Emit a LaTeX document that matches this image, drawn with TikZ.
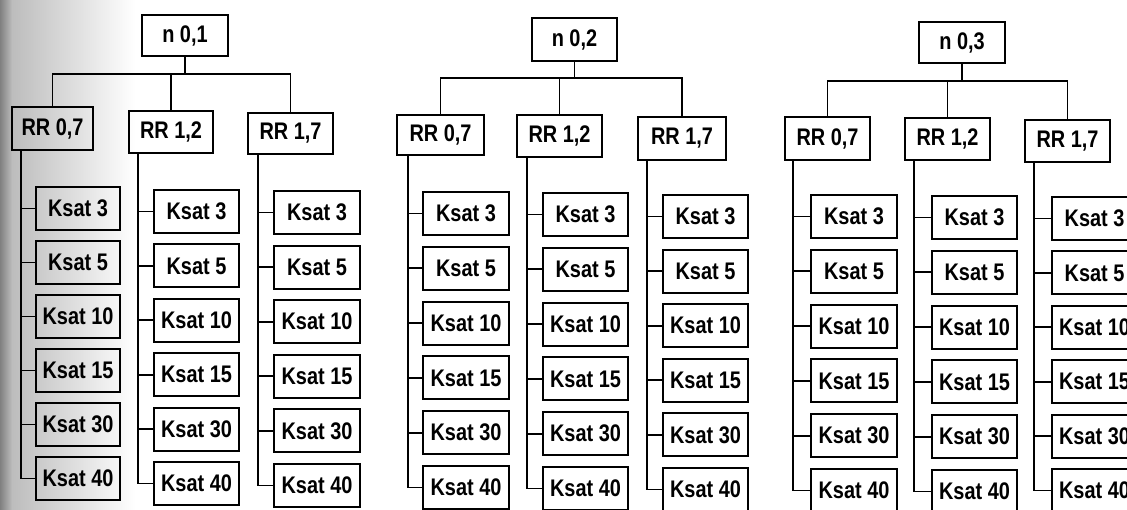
\documentclass[tikz,border=0pt]{standalone}
\usepackage{fontspec}
\setmainfont{Liberation Sans}[FakeStretch=0.83]
\begin{document}
\begin{tikzpicture}[x=1pt,y=-1pt,
  bx/.style={draw, line width=2pt, inner sep=0pt, font=\fontsize{24}{26}\selectfont\bfseries},
  ln/.style={line width=1.8pt}]
\useasboundingbox (0,0) rectangle (1127,509);
\clip (0,0) rectangle (1127,509);
% scanner shadow on the left
\shade[left color=black!50, right color=black!26] (0,0) rectangle (12,509);
\shade[left color=black!26, right color=white] (12,0) rectangle (135,509);
% top nodes
\node[bx, minimum width=86, minimum height=41] (n1) at (185,35.5) {n 0,1};
\node[bx, minimum width=85, minimum height=43] (n2) at (574.5,39.5) {n 0,2};
\node[bx, minimum width=86, minimum height=41] (n3) at (962,42.5) {n 0,3};
\coordinate (b1) at (185,74);
\coordinate (b2) at (574.5,78);
\coordinate (b3) at (962,81);
\foreach \t in {1,2,3}{\draw[ln] (n\t.south) -- (b\t);}
% RR nodes: tree/col/left/right/top/bottom/spine
\foreach \t/\c/\L/\R/\T/\B/\s in {
  1/1/12/93/107/150/21, 1/2/129/213/111/153/138, 1/3/248/333/113/154/258,
  2/1/397/484/115/155/408, 2/2/517/602/115/157/527, 2/3/638/726/117/160/647,
  3/1/785/870/117/160/793, 3/2/905/990/118/160/914, 3/3/1025/1110/120/162/1034}{
  \node[bx, minimum width={\R-\L}, minimum height={\B-\T}] (r\t\c) at ({(\L+\R)/2},{(\T+\B)/2})
    {RR \ifcase\c\or 0,7\or 1,2\or 1,7\fi};
  \draw[ln] (b\t) -| (r\t\c.north);
  \coordinate (s\t\c) at (\s,\B);
}
% Ksat nodes: tree/col/left/right/first top/pitch
\foreach \t/\c/\L/\R/\T/\p in {
  1/1/36/120/187/54, 1/2/154/239/190/54.4, 1/3/274/360/191/54.6,
  2/1/423/509/192/54.8, 2/2/543/628/193/54.8, 2/3/663/748/195/54.6,
  3/1/811/897/195/54.8, 3/2/932/1017/196/54.8, 3/3/1052/1137/197/54.4}{
  \foreach \v [count=\i] in {3,5,10,15,30,40}{
    \pgfmathsetmacro\tp{\T+(\i-1)*\p}
    \node[bx, minimum width={\R-\L}, minimum height=43] (k\t\c\i) at ({(\L+\R)/2},{\tp+21.5}) {Ksat \v};
    \draw[ln] (k\t\c\i.west) -- (k\t\c\i.west -| s\t\c);
  }
  \draw[ln] (s\t\c) |- (k\t\c6.west);
}
\end{tikzpicture}
\end{document}
